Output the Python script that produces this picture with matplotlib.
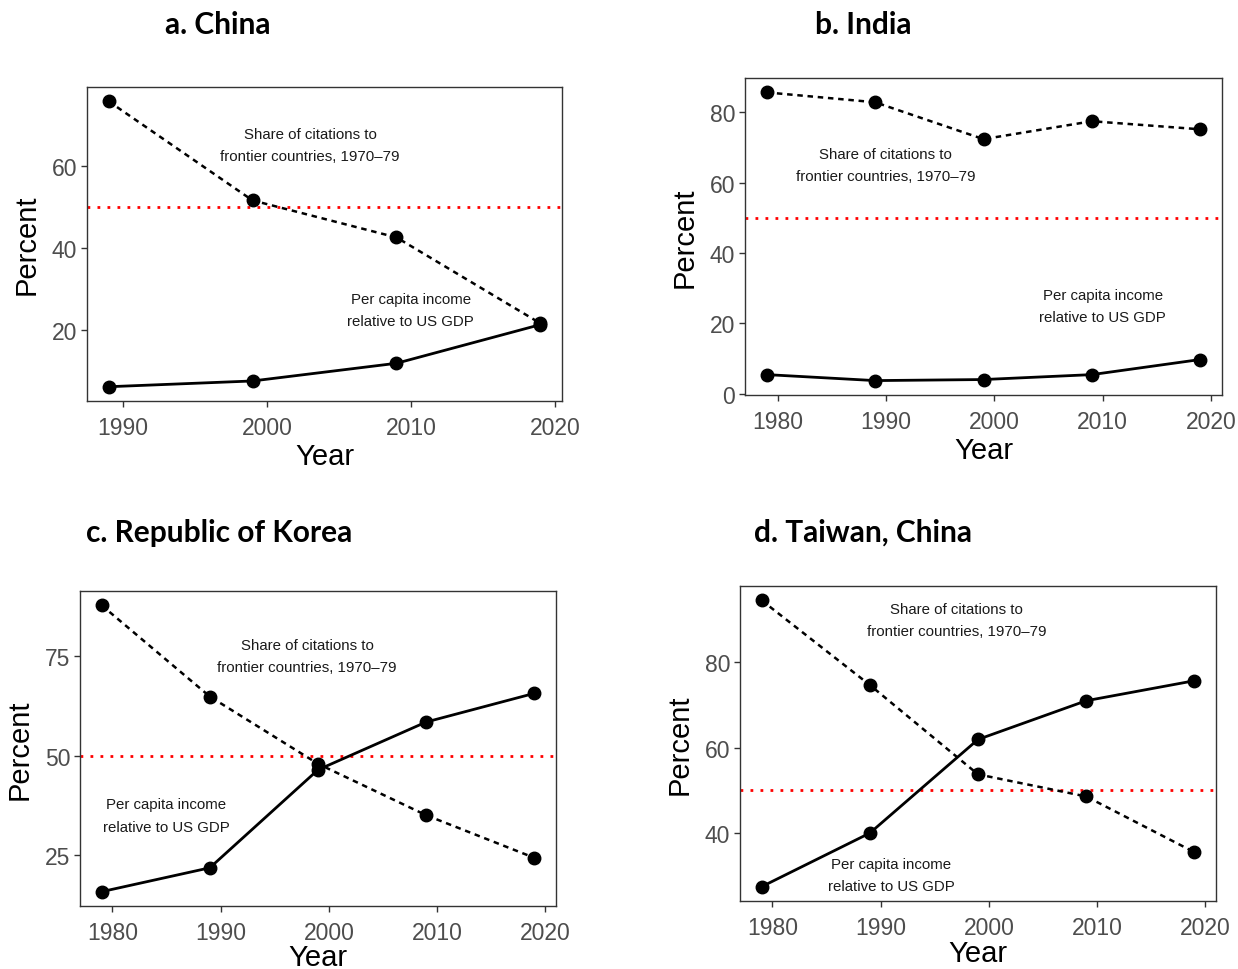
import matplotlib

matplotlib.use("Agg")
import matplotlib.pyplot as plt

# Share of citations to frontier countries (dashed) and per capita income
# relative to US GDP (solid), one pair of series per economy.
YEARS_CHINA = [1989, 1999, 2009, 2019]
CITES_CHINA = [75.7, 51.6, 42.6, 21.7]
INCOME_CHINA = [6.3, 7.7, 12.0, 21.4]

YEARS_INDIA = [1979, 1989, 1999, 2009, 2019]
CITES_INDIA = [85.7, 82.9, 72.4, 77.5, 75.2]
INCOME_INDIA = [5.4, 3.7, 4.0, 5.4, 9.7]

YEARS_KOREA = [1979, 1989, 1999, 2009, 2019]
CITES_KOREA = [87.8, 64.9, 48.0, 35.1, 24.4]
INCOME_KOREA = [15.9, 21.9, 46.5, 58.5, 65.7]

YEARS_TAIWAN = [1979, 1989, 1999, 2009, 2019]
CITES_TAIWAN = [94.6, 74.7, 53.7, 48.5, 35.4]
INCOME_TAIWAN = [27.3, 39.9, 61.9, 71.0, 75.7]

TITLES = ["a. China", "b. India", "c. Republic of Korea", "d. Taiwan, China"]
YTICKS = [[20, 40, 60], [0, 20, 40, 60, 80], [25, 50, 75], [40, 60, 80]]
XTICKS = [[1990, 2000, 2010, 2020]] + [[1980, 1990, 2000, 2010, 2020]] * 3
CITES_LABEL = "Share of citations to\nfrontier countries, 1970\u201379"
INCOME_LABEL = "Per capita income\nrelative to US GDP"
# label anchors (year, percent) for the two series captions
CITES_POS = [(2003, 65), (1990, 65), (1998, 75), (1997, 90)]
INCOME_POS = [(2010, 25), (2010, 25), (1985, 35), (1991, 30)]

W, H = 1238, 970
# axes boxes in pixels: left, top, right, bottom
BOXES = [(87, 88, 562, 402), (745, 79, 1222, 396), (80, 592, 556, 907), (740, 587, 1216, 902)]
TITLE_XY = [(218, 25), (863, 25), (219, 533), (863, 533)]
XLABEL_PAD = [2, 2, -1, 0]

GREY = "#4d4d4d"
plt.rcParams.update({"font.family": "Liberation Sans"})

fig = plt.figure(figsize=(W / 100, H / 100), dpi=100)
fig.patch.set_facecolor("white")

data = [
    (YEARS_CHINA, CITES_CHINA, INCOME_CHINA),
    (YEARS_INDIA, CITES_INDIA, INCOME_INDIA),
    (YEARS_KOREA, CITES_KOREA, INCOME_KOREA),
    (YEARS_TAIWAN, CITES_TAIWAN, INCOME_TAIWAN),
]

for i, (years, cites, income) in enumerate(data):
    l, t, r, b = BOXES[i]
    ax = fig.add_axes([l / W, 1 - b / H, (r - l) / W, (b - t) / H])
    ax.axhline(50, color="red", ls=(0, (1, 2.6)), lw=2.0, zorder=1)
    ax.plot(years, cites, color="black", ls=(0, (2.2, 1.9)), lw=1.8, zorder=2)
    ax.plot(years, income, color="black", ls="-", lw=2.0, zorder=2)
    ax.plot(years, cites, "o", color="black", ms=9, zorder=3)
    ax.plot(years, income, "o", color="black", ms=9, zorder=3)

    allv = cites + income
    lo, hi = min(allv), max(allv)
    pad = 0.05 * (hi - lo)
    ax.set_ylim(lo - pad, hi + pad)
    xpad = 0.05 * (years[-1] - years[0])
    ax.set_xlim(years[0] - xpad, years[-1] + xpad)
    ax.set_xticks(XTICKS[i])
    ax.set_yticks(YTICKS[i])

    ax.text(*CITES_POS[i], CITES_LABEL, ha="center", va="center", fontsize=10.8,
            color="#1a1a1a", linespacing=1.75)
    ax.text(*INCOME_POS[i], INCOME_LABEL, ha="center", va="center", fontsize=10.8,
            color="#1a1a1a", linespacing=1.75)

    for spine in ax.spines.values():
        spine.set_color("#333333")
        spine.set_linewidth(1.0)
    ax.tick_params(direction="out", length=4, width=1.0, color="#333333",
                   labelcolor=GREY, labelsize=16.5)
    ax.tick_params(axis="x", pad=7)
    ax.tick_params(axis="y", pad=3)
    ax.set_xlabel("Year", fontsize=21, color="black", labelpad=XLABEL_PAD[i])
    ax.set_ylabel("Percent", fontsize=21, color="black", labelpad=8)

    tx, ty = TITLE_XY[i]
    fig.text(tx / W, 1 - ty / H, TITLES[i], ha="center", va="center",
             fontsize=21.5, fontweight="bold", family="Lato")

fig.savefig("out.png", dpi=100, facecolor="white")
